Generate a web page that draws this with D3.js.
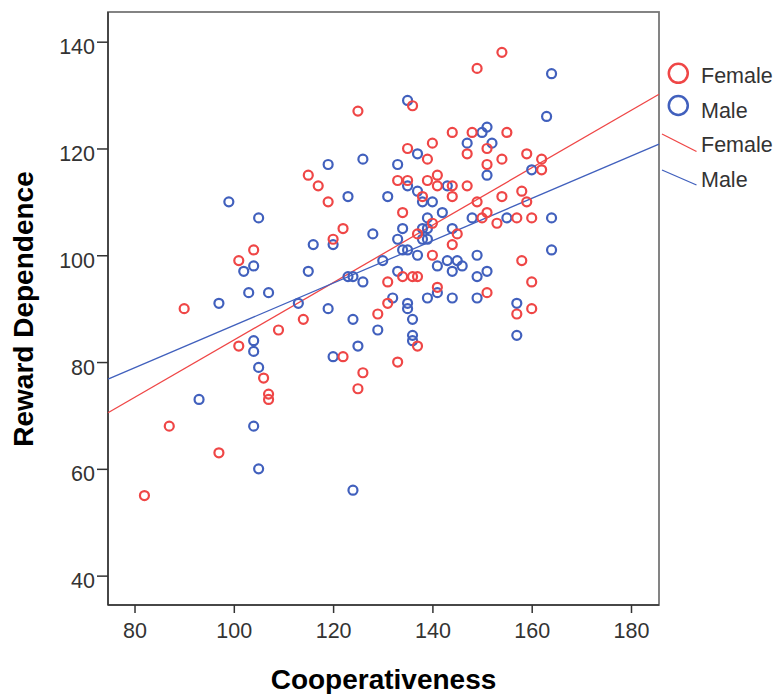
<!DOCTYPE html>
<meta charset="utf-8">
<head>
    <style>
        body { margin: 0; background: #fff; }
        text { font-family: "Liberation Sans", Arial, sans-serif; fill: #333; }
        .axis text { font-size: 21.5px; }
        .axis path, .axis line { stroke: #333; stroke-width: 1.5px; }
        .title { font-size: 28px; font-weight: bold; fill: #000; }
        .legend text { font-size: 21.5px; }
    </style>
</head>
<body>
<svg width="777" height="694"></svg>
<script src="https://d3js.org/d3.v7.min.js"></script>
<script>

    // Female points (Cooperativeness, Reward Dependence)
    var femaleCoop = [125, 115, 117, 119, 122, 120, 104, 101, 90, 114, 109, 129, 122, 126, 125, 101, 106, 107, 107, 87, 97, 82,
        131, 137, 133, 157, 160,
        154, 149, 136, 144, 148, 155, 140, 135, 151, 147, 159, 139, 154, 162, 151, 162, 133, 135, 139, 141,
        141, 144, 147, 138, 144, 158, 154, 149, 159, 134, 151, 150, 157, 160, 153, 140, 145, 137, 144, 140,
        158, 134, 136, 137, 131, 141, 160, 151];
    var femaleReward = [127, 115, 113, 110, 105, 103, 101, 99, 90, 88, 86, 89, 81, 78, 75, 83, 77, 74, 73, 68, 63, 55,
        91, 83, 80, 89, 90,
        138, 135, 128, 123, 123, 123, 121, 120, 120, 119, 119, 118, 118, 118, 117, 116, 114, 114, 114, 115,
        113, 113, 113, 111, 111, 112, 111, 110, 110, 108, 108, 107, 107, 107, 106, 106, 104, 104, 102, 100,
        99, 96, 96, 96, 95, 94, 95, 93];

    // Male points
    var maleCoop = [119, 126, 123, 99, 105, 120, 116, 128, 102, 104, 115, 123, 124, 126, 103, 107, 97, 113, 119, 124,
        129, 125, 120, 104, 104, 105, 93, 104, 105, 124,
        135, 135, 136, 136, 136, 157, 157,
        135, 137, 133, 164, 163, 151, 150, 147, 152, 160, 151, 135, 137, 143, 131, 138, 140, 142, 139, 148,
        155, 164, 138, 139, 134, 144, 133, 138, 139, 134, 135, 137, 149, 130, 141, 143, 145, 146, 144, 133,
        151, 149, 164, 141, 139, 132, 144, 149];
    var maleReward = [117, 118, 111, 110, 107, 102, 102, 104, 97, 98, 97, 96, 96, 95, 93, 93, 91, 91, 90, 88,
        86, 83, 81, 84, 82, 79, 73, 68, 60, 56,
        91, 90, 88, 85, 84, 91, 85,
        129, 119, 117, 134, 126, 124, 123, 121, 121, 116, 115, 113, 112, 113, 111, 110, 110, 108, 107, 107,
        107, 107, 105, 105, 105, 105, 103, 103, 103, 101, 101, 100, 100, 99, 98, 99, 99, 98, 97, 97,
        97, 96, 101, 93, 92, 92, 92, 92];

    // fit lines
    var femaleFit = { intercept: 30.37, slope: 0.5375 };
    var maleFit = { intercept: 47.2, slope: 0.3965 };

    var xTicks = [80, 100, 120, 140, 160, 180];
    var yTicks = [40, 60, 80, 100, 120, 140];

    var svg = d3.select("svg"),
        plotLeft = 108, plotRight = 659, plotTop = 12, plotBottom = 605;

    var red = "#ef4646", blue = "#4160bd";

    var x = d3.scaleLinear().domain([74.66, 185.64]).range([plotLeft, plotRight]);
    var y = d3.scaleLinear().domain([34.5, 145.56]).range([plotBottom, plotTop]);

    // frame
    svg.append("rect")
        .attr("x", plotLeft).attr("y", plotTop)
        .attr("width", plotRight - plotLeft).attr("height", plotBottom - plotTop)
        .attr("fill", "none")
        .attr("stroke", "#777")
        .attr("stroke-width", 1.8);

    svg.append("g")
        .attr("class", "axis")
        .attr("transform", "translate(0," + plotBottom + ")")
        .call(d3.axisBottom(x).tickValues(xTicks).tickSize(8).tickPadding(10).tickSizeOuter(0))
        .call(function (g) { g.select(".domain").attr("d", "M" + plotLeft + ",0H" + plotRight); });

    svg.append("g")
        .attr("class", "axis")
        .attr("transform", "translate(" + plotLeft + ",0)")
        .call(d3.axisLeft(y).tickValues(yTicks).tickSize(11).tickPadding(2).tickSizeOuter(0))
        .call(function (g) {
            g.select(".domain").attr("d", "M0," + plotTop + "V" + plotBottom);
            g.selectAll(".tick text").attr("dy", "0.56em");
        });

    // fit lines
    function fitLine(fit, color) {
        var d = x.domain();
        svg.append("line")
            .attr("x1", x(d[0])).attr("y1", y(fit.intercept + fit.slope * d[0]))
            .attr("x2", x(d[1])).attr("y2", y(fit.intercept + fit.slope * d[1]))
            .attr("stroke", color)
            .attr("stroke-width", 1.3);
    }
    fitLine(femaleFit, red);
    fitLine(maleFit, blue);

    function points(xs, ys, color) {
        svg.append("g")
            .selectAll("circle")
            .data(xs)
            .enter().append("circle")
            .attr("cx", function (d) { return x(d); })
            .attr("cy", function (d, i) { return y(ys[i]); })
            .attr("r", 4.5)
            .attr("fill", "none")
            .attr("stroke", color)
            .attr("stroke-width", 2.2);
    }
    points(maleCoop, maleReward, blue);
    points(femaleCoop, femaleReward, red);

    // axis titles
    svg.append("text")
        .attr("class", "title")
        .attr("x", (plotLeft + plotRight) / 2)
        .attr("y", 689)
        .attr("text-anchor", "middle")
        .text("Cooperativeness");

    svg.append("text")
        .attr("class", "title")
        .attr("transform", "translate(33,309) rotate(-90)")
        .attr("text-anchor", "middle")
        .text("Reward Dependence");

    // legend
    var legend = svg.append("g").attr("class", "legend");
    legend.append("circle").attr("cx", 678.3).attr("cy", 73.3).attr("r", 9.5)
        .attr("fill", "none").attr("stroke", red).attr("stroke-width", 2.5);
    legend.append("text").attr("x", 701).attr("y", 82.7).text("Female");
    legend.append("circle").attr("cx", 678.3).attr("cy", 105.5).attr("r", 9.5)
        .attr("fill", "none").attr("stroke", blue).attr("stroke-width", 2.5);
    legend.append("text").attr("x", 701).attr("y", 118.3).text("Male");
    legend.append("line").attr("x1", 662).attr("y1", 134).attr("x2", 696.5).attr("y2", 151.5)
        .attr("stroke", red).attr("stroke-width", 1.3);
    legend.append("text").attr("x", 701).attr("y", 152.3).text("Female");
    legend.append("line").attr("x1", 662).attr("y1", 170).attr("x2", 696.5).attr("y2", 185)
        .attr("stroke", blue).attr("stroke-width", 1.3);
    legend.append("text").attr("x", 701).attr("y", 186.7).text("Male");

</script>
</body>
